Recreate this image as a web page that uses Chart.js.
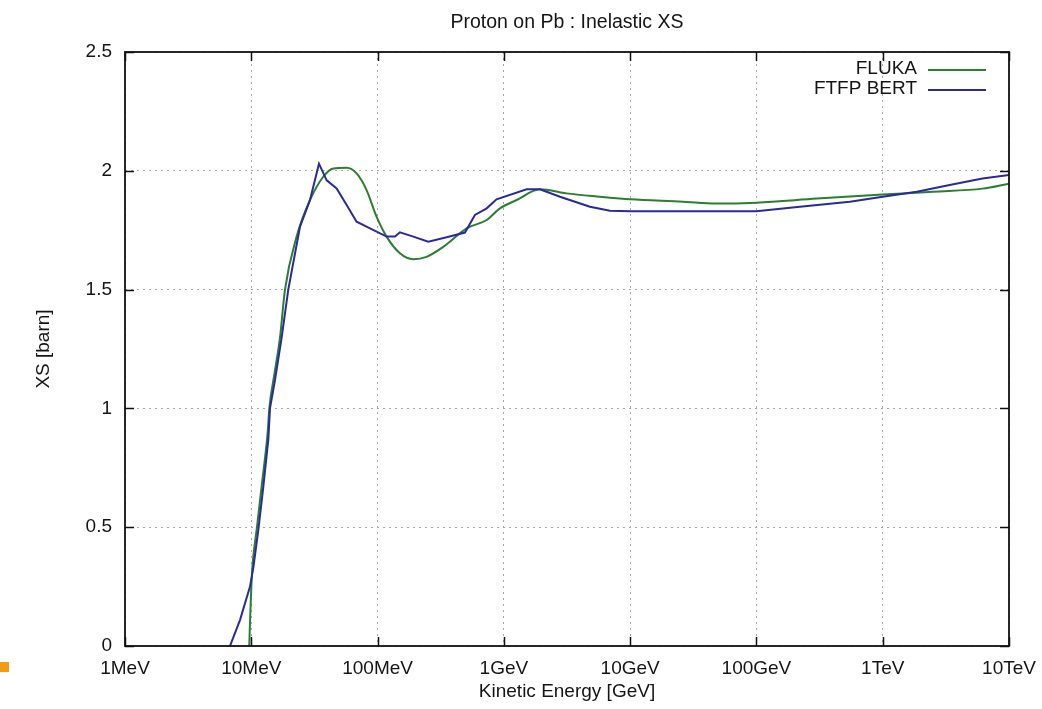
<!DOCTYPE html>
<html>
<head>
<meta charset="utf-8">
<script src="https://cdn.jsdelivr.net/npm/chart.js@4/dist/chart.umd.min.js"></script>
<style>
  html, body { margin: 0; padding: 0; background: #fff; }
  #wrap { position: relative; width: 1042px; height: 709px; }
  #mark { position: absolute; left: 0; top: 662px; width: 9px; height: 10px; background: #f39c12; }
</style>
</head>
<body>
<div id="wrap">
  <canvas id="c" width="1042" height="709"></canvas>
  <div id="mark"></div>
</div>
<script>
// ---- Data (energies in GeV, cross sections in barn) ----
const titleText = 'Proton on Pb : Inelastic XS';
const xAxisTitle = 'Kinetic Energy [GeV]';
const yAxisTitle = 'XS [barn]';

const xTickValues = [0.001, 0.01, 0.1, 1, 10, 100, 1000, 10000];
const xTickLabels = ['1MeV', '10MeV', '100MeV', '1GeV', '10GeV', '100GeV', '1TeV', '10TeV'];
const yTickValues = [0, 0.5, 1, 1.5, 2, 2.5];
const yTickLabels = ['0', '0.5', '1', '1.5', '2', '2.5'];

const flukaLabel = 'FLUKA';
const flukaEnergy = [0.00964, 0.00977, 0.01012, 0.01109, 0.01225, 0.01349, 0.0139, 0.01531, 0.0169,
  0.01849, 0.02286, 0.02917, 0.03715, 0.04467, 0.05689, 0.06823, 0.08185, 0.09817, 0.1178,
  0.1503, 0.1919, 0.2443, 0.3311, 0.507, 0.7311, 0.931, 1.262, 1.932, 3.133, 5.754, 10,
  26.3, 47.9, 100, 302, 1000, 2512, 6166, 10000];
const flukaXS = [0, 0.10, 0.30, 0.50, 0.70, 0.90, 1.0, 1.15, 1.30,
  1.50, 1.723, 1.877, 1.975, 2.01, 2.013, 1.989, 1.919, 1.807, 1.723,
  1.653, 1.628, 1.638, 1.68, 1.758, 1.793, 1.842, 1.877, 1.922, 1.905, 1.891, 1.88,
  1.87, 1.862, 1.866, 1.883, 1.90, 1.912, 1.925, 1.946];

const ftfpLabel = 'FTFP BERT';
const ftfpEnergy = [0.00678, 0.00815, 0.00977, 0.01038, 0.01138, 0.01245, 0.01365, 0.01406, 0.01542,
  0.01742, 0.01963, 0.02432, 0.02917, 0.03436, 0.03954, 0.04742, 0.05689, 0.06823, 0.0871,
  0.118, 0.1374, 0.1503, 0.1919, 0.2518, 0.3524, 0.492, 0.5902, 0.7311, 0.875, 1.514, 1.932,
  2.78, 4.809, 6.918, 10, 100, 220.8, 549.5, 1000, 1862, 3388, 6166, 10000];
const ftfpXS = [0, 0.11, 0.25, 0.33, 0.49, 0.67, 0.87, 1.0, 1.12,
  1.30, 1.50, 1.765, 1.877, 2.03, 1.96, 1.926, 1.856, 1.786, 1.758,
  1.723, 1.723, 1.741, 1.723, 1.702, 1.72, 1.74, 1.814, 1.842, 1.88, 1.922, 1.922,
  1.891, 1.849, 1.832, 1.83, 1.83, 1.849, 1.87, 1.891, 1.912, 1.94, 1.968, 1.982];

const toPoints = (xs, ys) => xs.map((x, i) => ({ x: x, y: ys[i] }));

const FONT = '"Liberation Sans", Arial, Helvetica, sans-serif';
const TEXT = '#151515';
const GREEN = '#2a7f2e';
const BLUE = '#2a2a9c';

const framePlugin = {
  id: 'frame',
  afterDraw(chart) {
    const { ctx, chartArea: a, scales } = chart;
    ctx.save();
    // title, centred over the plot area
    ctx.fillStyle = TEXT;
    ctx.font = '19.5px ' + FONT;
    ctx.textAlign = 'center';
    ctx.textBaseline = 'alphabetic';
    ctx.fillText(titleText, (a.left + a.right) / 2, 28);

    ctx.strokeStyle = '#111';
    ctx.lineWidth = 1.5;
    ctx.beginPath();
    const tl = 9;
    xTickValues.forEach(v => {
      const px = Math.round(scales.x.getPixelForValue(v)) + 0.5;
      ctx.moveTo(px, a.bottom); ctx.lineTo(px, a.bottom - tl);
      ctx.moveTo(px, a.top); ctx.lineTo(px, a.top + tl);
    });
    yTickValues.forEach(v => {
      const py = Math.round(scales.y.getPixelForValue(v)) + 0.5;
      ctx.moveTo(a.left, py); ctx.lineTo(a.left + tl, py);
      ctx.moveTo(a.right, py); ctx.lineTo(a.right - tl, py);
    });
    ctx.stroke();
    ctx.lineWidth = 1.8;
    ctx.strokeRect(a.left, a.top, a.right - a.left, a.bottom - a.top);

    // legend (inside, top right, text right-aligned before the sample line)
    ctx.font = '19px ' + FONT;
    ctx.textAlign = 'right';
    ctx.textBaseline = 'middle';
    const rows = [{ ds: chart.data.datasets[0], y: 69 }, { ds: chart.data.datasets[1], y: 89 }];
    rows.forEach(r => {
      ctx.fillStyle = TEXT;
      ctx.fillText(r.ds.label, 917, r.y);
      ctx.strokeStyle = r.ds.borderColor;
      ctx.lineWidth = 2;
      ctx.beginPath();
      ctx.moveTo(928, r.y + 1);
      ctx.lineTo(986, r.y + 1);
      ctx.stroke();
    });
    ctx.restore();
  }
};

new Chart(document.getElementById('c'), {
  type: 'line',
  data: {
    datasets: [
      { label: flukaLabel, data: toPoints(flukaEnergy, flukaXS), borderColor: GREEN,
        borderWidth: 2, pointRadius: 0, cubicInterpolationMode: 'monotone', fill: false, order: 1 },
      { label: ftfpLabel, data: toPoints(ftfpEnergy, ftfpXS), borderColor: BLUE,
        borderWidth: 2, pointRadius: 0, tension: 0, fill: false, order: 0 }
    ]
  },
  options: {
    responsive: false,
    animation: false,
    layout: { padding: { top: 52, left: 0, right: 33, bottom: 0 } },
    plugins: {
      legend: { display: false },
      tooltip: { enabled: false },
      title: { display: false }
    },
    scales: {
      x: {
        type: 'logarithmic', position: 'bottom', min: 0.001, max: 10000,
        afterBuildTicks: s => { s.ticks = xTickValues.map(v => ({ value: v })); },
        afterFit: s => { s.height = 63; s.paddingLeft = 0; s.paddingRight = 0; },
        ticks: {
          autoSkip: false, maxRotation: 0, minRotation: 0, padding: 11,
          color: TEXT, font: { family: FONT, size: 19 },
          callback: v => xTickLabels[xTickValues.indexOf(v)]
        },
        grid: { color: '#a8a8a8', lineWidth: 1, drawTicks: false, tickLength: 0 },
        border: { display: false, dash: [2, 4] },
        title: { display: true, text: xAxisTitle, color: TEXT,
          font: { family: FONT, size: 19 }, padding: { top: 0, bottom: 5.6 } }
      },
      y: {
        type: 'linear', position: 'left', min: 0, max: 2.5,
        afterBuildTicks: s => { s.ticks = yTickValues.map(v => ({ value: v })); },
        afterFit: s => { s.width = 125; s.paddingTop = 0; s.paddingBottom = 0; },
        ticks: {
          padding: 13, color: TEXT, font: { family: FONT, size: 19 },
          callback: v => yTickLabels[yTickValues.indexOf(v)]
        },
        grid: { color: '#a8a8a8', lineWidth: 1, drawTicks: false, tickLength: 0 },
        border: { display: false, dash: [2, 4] },
        title: { display: true, text: yAxisTitle, color: TEXT,
          font: { family: FONT, size: 19 }, padding: { top: 32.6, bottom: 0 } }
      }
    }
  },
  plugins: [framePlugin]
});
</script>
</body>
</html>
